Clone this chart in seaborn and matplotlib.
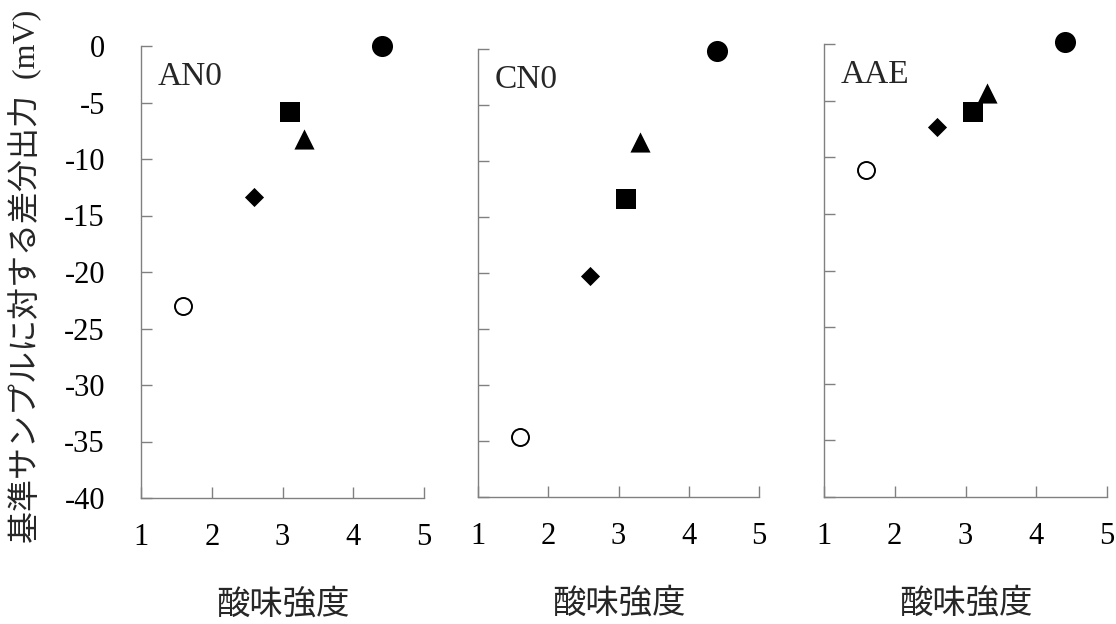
import matplotlib
matplotlib.use("Agg")
import matplotlib.pyplot as plt
import seaborn as sns
import pandas as pd

sns.set_theme(style="white")
plt.rcParams["font.family"] = ["Liberation Serif", "Noto Sans CJK JP"]

# Sour-taste intensity for the five samples (same in every panel)
samples = ["s1", "s2", "s3", "s4", "s5"]
sourness = [1.6, 2.6, 3.1, 3.3, 4.4]

# Differential output relative to the reference sample (mV), per sensor
panels = ["AN0", "CN0", "AAE"]
out_an0 = [-23.0, -13.4, -5.8, -8.2, 0.0]
out_cn0 = [-34.6, -20.3, -13.4, -8.3, -0.2]
out_aae = [-11.1, -7.3, -6.0, -4.3, 0.2]

x_ticks = [1, 2, 3, 4, 5]
y_ticks = [0, -5, -10, -15, -20, -25, -30, -35, -40]

rows = []
for panel, vals in zip(panels, [out_an0, out_cn0, out_aae]):
    for s, x, y in zip(samples, sourness, vals):
        rows.append({"panel": panel, "sample": s, "sourness": x, "output": y})
df = pd.DataFrame(rows)

styles = {
    "s1": dict(marker="o", s=150, facecolor="white", edgecolor="black", linewidth=1.4),
    "s2": dict(marker="D", s=95, facecolor="black", edgecolor="black", linewidth=0),
    "s3": dict(marker="s", s=190, facecolor="black", edgecolor="black", linewidth=0),
    "s4": dict(marker="^", s=210, facecolor="black", edgecolor="black", linewidth=0),
    "s5": dict(marker="o", s=230, facecolor="black", edgecolor="black", linewidth=0),
}

fig = plt.figure(figsize=(11.16, 6.24), dpi=100)
W, H = 1116, 624
boxes = [(141, 424, 46, 498), (478, 759, 49, 497), (824, 1107, 44, 497)]

spine_col = "#808080"
for i, (panel, (l, r, t, b)) in enumerate(zip(panels, boxes)):
    ax = fig.add_axes([l / W, 1 - b / H, (r - l) / W, (b - t) / H])
    sub = df[df["panel"] == panel]
    for s in samples:
        d = sub[sub["sample"] == s]
        sns.scatterplot(data=d, x="sourness", y="output", ax=ax, legend=False,
                        clip_on=False, zorder=3, **styles[s])
    ax.set_xlim(1, 5)
    ax.set_ylim(-40, 0)
    ax.set_xticks(x_ticks)
    ax.set_yticks(y_ticks)
    ax.set_xticklabels([str(v) for v in x_ticks], fontsize=22)
    if i == 0:
        ax.set_yticklabels([str(v) for v in y_ticks], fontsize=22)
        ax.tick_params(axis="y", pad=26)
    else:
        ax.set_yticklabels([])
    ax.tick_params(axis="both", direction="in", length=8, width=1.0,
                   color=spine_col, labelcolor="black", bottom=True, left=True)
    ax.tick_params(axis="x", pad=18)
    for side in ["top", "right"]:
        ax.spines[side].set_visible(False)
    for side in ["left", "bottom"]:
        ax.spines[side].set_color(spine_col)
        ax.spines[side].set_linewidth(1.0)
    ax.set_xlabel("酸味強度", fontsize=24, family="Noto Sans CJK JP", labelpad=25)
    ax.set_ylabel("")
    ax.text(0.06, 0.965, panel, transform=ax.transAxes, fontsize=24,
            ha="left", va="top", family="Liberation Serif")
    ax.set_facecolor("white")

fig.text(25 / W, 1 - 276 / H, "基準サンプルに対する差分出力  (mV)", rotation=90,
         ha="center", va="center", fontsize=23,
         family=["Liberation Serif", "Noto Sans CJK JP"])

fig.savefig("out.png", dpi=100, facecolor="white")
